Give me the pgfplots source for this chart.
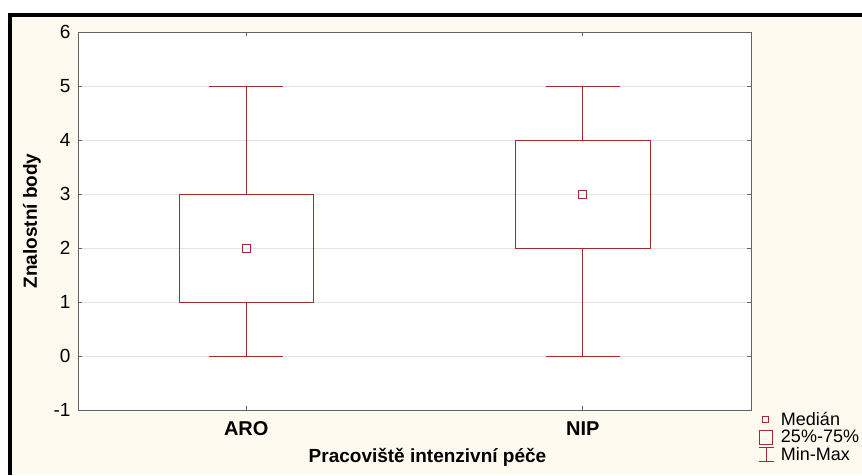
\documentclass[border=0pt]{standalone}
\usepackage{pgfplots}
\pgfplotsset{compat=1.18}
\usepgfplotslibrary{statistics}
\usepackage{fontspec}
\setmainfont{Liberation Sans}
\definecolor{boxred}{RGB}{165,42,48}
\definecolor{cream}{RGB}{255,250,240}
\definecolor{axgray}{RGB}{100,100,100}
\definecolor{gridgray}{RGB}{228,228,228}
\begin{document}
\begin{tikzpicture}[x=1pt,y=1pt]
\path[use as bounding box] (0,0) rectangle (862,475);
\fill[white] (0,0) rectangle (862,475);
\fill[cream] (12,0) rectangle (862,458);
\fill[black] (8,0) rectangle (12,462);
\fill[black] (8,458) rectangle (862,462);
\begin{axis}[
  at={(78pt,65pt)}, anchor=south west,
  scale only axis, width=673pt, height=378pt,
  xmin=0.5, xmax=2.5, ymin=-1, ymax=6,
  xtick={1,2}, xticklabels={ARO,NIP},
  ytick={-1,0,...,6},
  ymajorgrids, grid style={gridgray, line width=1pt},
  axis line style={axgray, line width=1pt},
  tick style={axgray, line width=0.8pt}, major tick length=4pt,
  axis background/.style={fill=white},
  /pgf/number format/assume math mode=true,
  yticklabel style={font=\fontsize{19}{21}\selectfont, xshift=-4pt},
  xticklabel style={font=\fontsize{20}{22}\selectfont\bfseries, yshift=-8pt},
  label style={font=\fontsize{19}{21}\selectfont\bfseries},
  xlabel={Pracoviště intenzivní péče},
  ylabel={Znalostní body},
  xlabel style={xshift=13pt, yshift=-6pt},
  ylabel style={yshift=6pt},
  boxplot/draw direction=y,
  boxplot/every median/.style={draw=none},
  legend cell align=left,
  legend style={draw=none, fill=none, at={(axis description cs:1.008,0.0)}, anchor=north west,
    font=\fontsize{18}{20}\selectfont, row sep=-1pt, inner sep=0pt},
]
\addplot+[forget plot, boxred, solid, line width=0.9pt, mark=none,
  boxplot prepared={draw position=1, lower whisker=0, lower quartile=1, median=2,
  upper quartile=3, upper whisker=5, box extend=0.4, whisker extend=0.22}]
  coordinates {};
\addplot+[forget plot, boxred, solid, line width=0.9pt, mark=none,
  boxplot prepared={draw position=2, lower whisker=0, lower quartile=2, median=3,
  upper quartile=4, upper whisker=5, box extend=0.4, whisker extend=0.22}]
  coordinates {};
\addplot[forget plot, only marks, mark=square, mark size=4pt, boxred, line width=0.9pt]
  coordinates {(1,2) (2,3)};
\addlegendimage{legend image code/.code={\path (0,0) (22pt,0); \draw[boxred,line width=0.8pt] (6pt,-3pt) rectangle (12pt,3pt);}}
\addlegendentry{Medián}
\addlegendimage{legend image code/.code={\path (0,0) (22pt,0); \draw[boxred,line width=0.8pt] (3pt,-7pt) rectangle (16pt,7pt);}}
\addlegendentry{25\%-75\%}
\addlegendimage{legend image code/.code={\path (0,0) (22pt,0); \draw[boxred,line width=0.8pt] (9.5pt,-7pt) -- (9.5pt,7pt) (2pt,-7pt) -- (17pt,-7pt) (2pt,7pt)--(17pt,7pt);}}
\addlegendentry{Min-Max}
\end{axis}
\end{tikzpicture}
\end{document}
